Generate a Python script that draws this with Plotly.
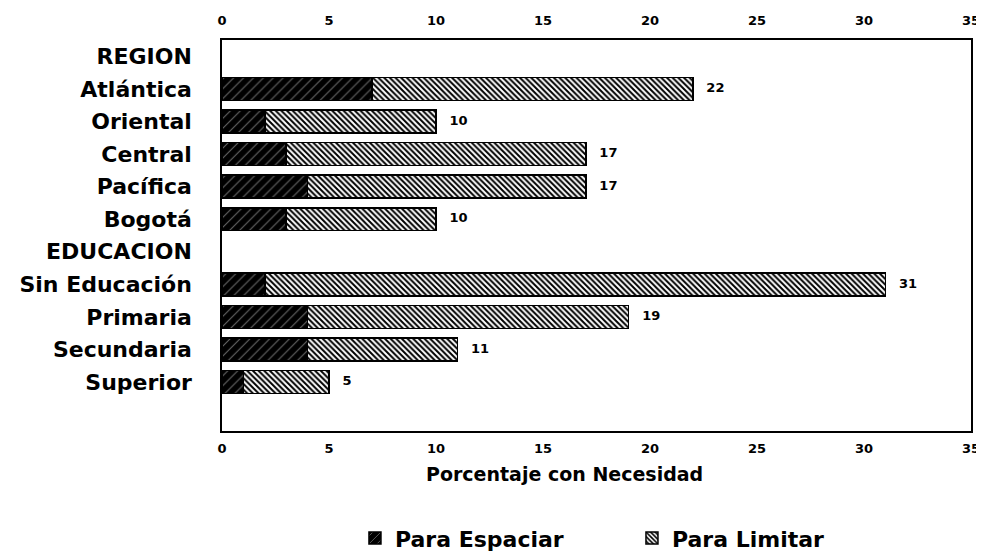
import plotly.graph_objects as go

slots = ["REGION", "Atlántica", "Oriental", "Central", "Pacífica", "Bogotá",
         "EDUCACION", "Sin Educación", "Primaria", "Secundaria", "Superior", " "]
categories = ["Atlántica", "Oriental", "Central", "Pacífica", "Bogotá",
              "Sin Educación", "Primaria", "Secundaria", "Superior"]
espaciar = [7, 2, 3, 4, 3, 2, 4, 4, 1]
total = [22, 10, 17, 17, 10, 31, 19, 11, 5]
limitar = [t - e for t, e in zip(total, espaciar)]
xticks = [0, 5, 10, 15, 20, 25, 30, 35]

FONT = "DejaVu Sans"

fig = go.Figure()
fig.add_trace(go.Bar(
    y=categories, x=espaciar, orientation="h", name="Para Espaciar",
    marker=dict(color="black", line=dict(color="black", width=1.5),
                pattern=dict(shape="/", fgcolor="#6a6a6a", bgcolor="black",
                             size=7, solidity=0.15, fillmode="replace")),
))
fig.add_trace(go.Bar(
    y=categories, x=limitar, orientation="h", name="Para Limitar",
    marker=dict(color="white", line=dict(color="black", width=1.5),
                pattern=dict(shape="\\", fgcolor="black", bgcolor="white",
                             size=4, solidity=0.5, fillmode="replace")),
))
fig.add_trace(go.Scatter(
    y=categories, x=total, mode="text", text=["   " + str(t) for t in total],
    textposition="middle right", showlegend=False,
    textfont=dict(family=FONT, size=13, color="black", weight="bold"),
    cliponaxis=False, hoverinfo="skip",
))
# invisible trace for top axis
fig.add_trace(go.Scatter(x=[0, 35], y=[slots[0], slots[0]], xaxis="x2", mode="markers",
                         marker=dict(opacity=0), showlegend=False, hoverinfo="skip"))

tickfont = dict(family=FONT, size=13, weight="bold")
fig.update_layout(
    width=976, height=546,
    margin=dict(l=214, r=13, t=32, b=123, autoexpand=False),
    paper_bgcolor="white", plot_bgcolor="white",
    barmode="stack", bargap=0.3,
    font=dict(family=FONT, color="black"),
    xaxis=dict(range=[0, 35], tickvals=xticks, showgrid=False, zeroline=False,
               showline=True, linecolor="black", linewidth=1.5, mirror=True,
               ticks="", tickfont=tickfont, ticklabelstandoff=5, automargin=False),
    xaxis2=dict(range=[0, 35], tickvals=xticks, overlaying="x", side="top",
                showgrid=False, zeroline=False, showline=False, ticks="",
                tickfont=tickfont, ticklabelstandoff=11, automargin=False),
    yaxis=dict(type="category", categoryorder="array", categoryarray=slots,
               range=[11.5, -0.5], showgrid=False, zeroline=False, ticks="",
               showline=True, linecolor="black", linewidth=1.5, mirror=True,
               tickfont=dict(family=FONT, size=22, weight="bold"),
               ticklabelstandoff=24, automargin=False),
    legend=dict(orientation="h", xref="container", yref="container",
                x=0.3555, xanchor="left", y=0.029, yanchor="middle",
                font=dict(family=FONT, size=22, weight="bold"),
                entrywidth=232, entrywidthmode="pixels", traceorder="normal"),
    annotations=[dict(text="Porcentaje con Necesidad", xref="x", yref="paper",
                      x=16.0, xanchor="center", y=-0.11, yanchor="middle",
                      showarrow=False,
                      font=dict(family=FONT, size=19, weight="bold"))],
)

fig.write_html("out.html")
